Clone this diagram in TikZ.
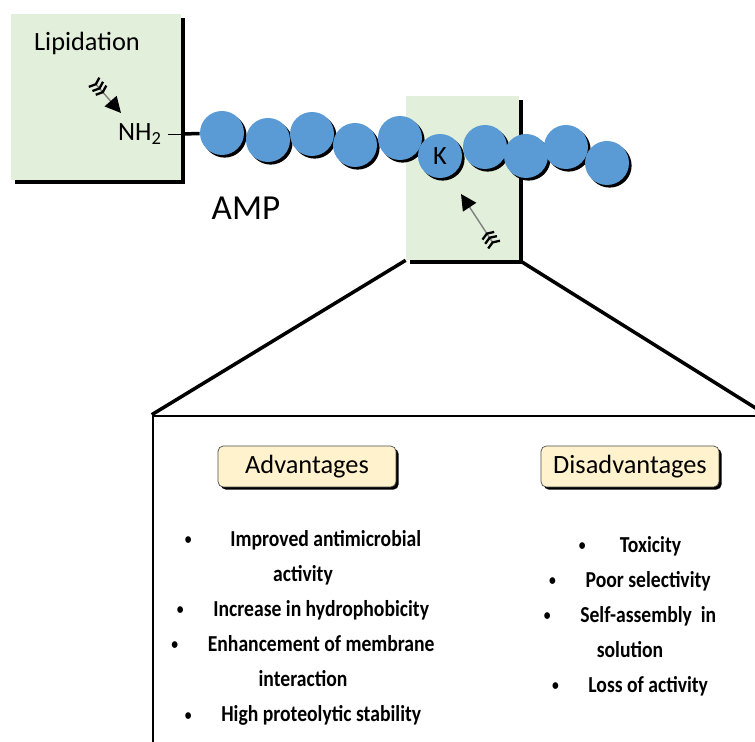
\documentclass[tikz,border=0pt]{standalone}
\usepackage{fontspec}
\setmainfont{Carlito}
\newfontfamily\listfont[FakeStretch=0.86]{Carlito}
\usepackage{tikz}
\usetikzlibrary{arrows.meta,shadows}

\definecolor{boxgreen}{HTML}{E2EFDA}
\definecolor{beadblue}{HTML}{5B9BD5}
\definecolor{tagcream}{HTML}{FFF2CC}

\newcommand{\smallbullet}{\raisebox{0.15ex}{\fontsize{9}{9}\selectfont\textbullet}}

\begin{document}
\begin{tikzpicture}[x=0.02cm, y=-0.02cm,
    greenbox/.style={rectangle, fill=boxgreen, drop shadow={shadow xshift=2.2pt, shadow yshift=-2.2pt, fill=black, opacity=1}},
    bead/.style={circle, fill=beadblue, minimum size=0.88cm, inner sep=0pt, font=\fontsize{15}{18}\selectfont, drop shadow={shadow xshift=1.5pt, shadow yshift=-1.5pt, fill=black, opacity=1}},
    tagnode/.style={rectangle, rounded corners=3pt, draw=black!70, fill=tagcream, minimum width=3.56cm, minimum height=0.82cm, font=\fontsize{15}{18}\selectfont, drop shadow={shadow xshift=1.5pt, shadow yshift=-1.5pt, fill=black, opacity=1}},
    listnode/.style={align=center, font=\listfont\bfseries\fontsize{13}{19.95}\selectfont}
    ]
    \tikzset{labeltext/.style = {font=\fontsize{15}{18}\selectfont}}
    \tikzset{featherarrow/.style={draw=gray, line width=0.8pt,
        {Straight Barb[reversed,color=black,length=1.5pt,width=8pt,line width=1.3pt,sep=0.3pt]Straight Barb[reversed,color=black,length=1.5pt,width=8pt,line width=1.3pt,sep=0.3pt]Straight Barb[reversed,color=black,length=1.5pt,width=8pt,line width=1.3pt]}-{Triangle[color=black,length=9pt,width=9pt]}}}
    \useasboundingbox (0,0) rectangle (755,742);
    %
    %boxes
    %
    \node[greenbox, minimum width=3.4cm, minimum height=3.32cm] (lipbox) at (96,97) {};
    \node[greenbox, minimum width=2.26cm, minimum height=3.28cm] (midbox) at (462.5,178) {};
    \node[rectangle, draw=black, line width=1.5pt, minimum width=12.24cm, minimum height=7.68cm] (bottombox) at (459,608) {};
    %
    %labels
    %
    \node[labeltext] (lipidation) at (87,43) {Lipidation};
    \node[labeltext] (nh2) at (140,134) {NH\textsubscript{2}};
    \node[font=\fontsize{20}{24}\selectfont] (amp) at (246,208) {AMP};
    \coordinate (liptail) at (93,81);
    \coordinate (liphead) at (121,113);
    \coordinate (midtail) at (495,246);
    \coordinate (midhead) at (461,194);
    \coordinate (boxedge) at (lipbox.east |- nh2);
    %
    %beads
    %
    \node[bead] (b1) at (222,133) {};
    \node[bead] (b2) at (268,140) {};
    \node[bead] (b3) at (312,134) {};
    \node[bead] (b4) at (355,145) {};
    \node[bead] (b5) at (400,138) {};
    \node[bead] (b6) at (440,156) {K};
    \node[bead] (b7) at (485,147) {};
    \node[bead] (b8) at (526,156) {};
    \node[bead] (b9) at (566,147) {};
    \node[bead] (b10) at (607,163) {};
    %
    %advantages and disadvantages
    %
    \node[tagnode] (adv) at (307,466.5) {Advantages};
    \node[tagnode] (disadv) at (630,466.5) {Disadvantages};
    \node[listnode] (advlist) at (303,628) {\smallbullet\hspace{1.7em}Improved antimicrobial\\activity\\\smallbullet\hspace{1.3em}Increase in hydrophobicity\\\smallbullet\hspace{1.3em}Enhancement of membrane\\interaction\\\smallbullet\hspace{1.3em}High proteolytic stability};
    \node[listnode] (disadvlist) at (630,616) {\smallbullet\hspace{1.5em}Toxicity\\\smallbullet\hspace{1.3em}Poor selectivity\\\smallbullet\hspace{1.3em}Self-assembly~ in\\solution\\\smallbullet\hspace{1.3em}Loss of activity};
    %
    %edges
    %
    \draw[thin] (nh2.east) -- (boxedge);
    \draw[line width=2pt] (boxedge) -- (b1);
    \draw[featherarrow] (liptail) -- (liphead);
    \draw[featherarrow] (midtail) -- (midhead);
    \draw[line width=2pt] (midbox.south west) -- (bottombox.north west);
    \draw[line width=2pt] (midbox.south east) -- (bottombox.north east);
\end{tikzpicture}
\end{document}
